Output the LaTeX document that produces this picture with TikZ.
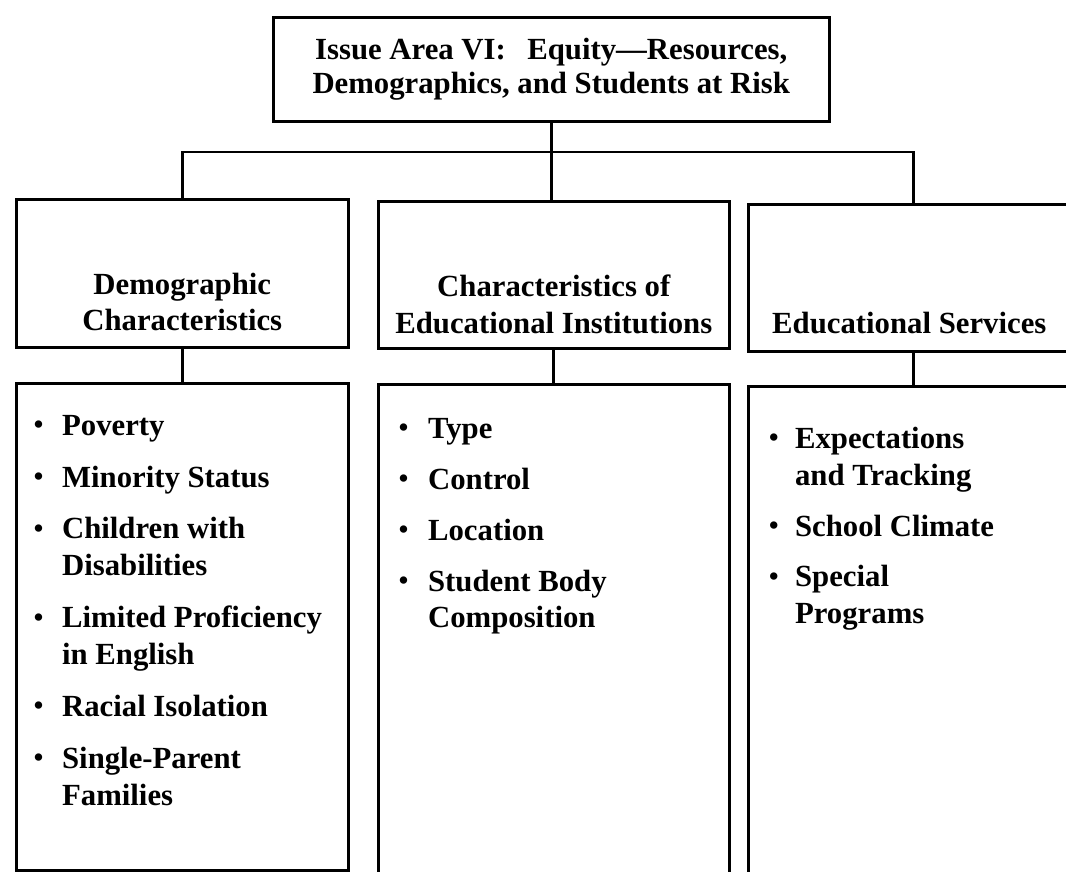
\documentclass[tikz,border=0pt]{standalone}
\usepackage{fontspec}
\usepackage{graphicx}
\setmainfont{Liberation Serif}
\usetikzlibrary{positioning}
\tikzset{
  box/.style={draw,line width=1.5pt,inner sep=0pt,anchor=north west},
  head/.style={font=\bfseries\fontsize{17.5pt}{21pt}\selectfont,align=center,inner sep=0pt},
  items/.style={font=\bfseries\fontsize{17.5pt}{21pt}\selectfont,anchor=north west,inner sep=0pt},
  link/.style={line width=1.5pt}
}
\newcommand{\blt}{\makebox[0.35em]{\raisebox{0.05em}{\scalebox{0.88}{\textbullet}}}}

\begin{document}
\begin{tikzpicture}[x=0.02cm,y=-0.02cm]
                \useasboundingbox (0,0) rectangle (1066,872);
                \clip (0,0) rectangle (1066,872);
                % top box
                \node[box,minimum width=11.12cm,minimum height=2.08cm,
                  font=\bfseries\fontsize{17.5pt}{19pt}\selectfont,align=center]
                  (top) at (272,16) {Issue Area VI:\hspace{0.7em}Equity---Resources,\\
                  Demographics, and Students at Risk};
                % heading boxes
                \node[box,minimum width=6.64cm,minimum height=2.96cm] (demo) at (15,198) {};
                \node[box,minimum width=7.02cm,minimum height=2.94cm] (inst) at (377,200) {};
                \node[box,minimum width=6.6cm,minimum height=2.94cm] (serv) at (747,203) {};
                \node[head,above=0.34cm of demo.south] (demohead) {Demographic\\Characteristics};
                \node[head,above=0.3cm of inst.south] (insthead) {Characteristics of\\Educational Institutions};
                \node[head,above=0.36cm of serv.south,xshift=-0.08cm] (servhead) {Educational Services};
                % list boxes
                \node[box,minimum width=6.64cm,minimum height=9.74cm] (demolist) at (15,382) {};
                \node[box,minimum width=7.02cm,minimum height=10.2cm] (instlist) at (377,383) {};
                \node[box,minimum width=6.6cm,minimum height=10.2cm] (servlist) at (747,385) {};
                \node[items] (demoitems) at (33,409) {\begin{tabular}{@{}l@{\hspace{0.36cm}}l@{}}
                  \blt & Poverty\\[8.5pt]
                  \blt & Minority Status\\[8.5pt]
                  \blt & Children with\\ & Disabilities\\[8.5pt]
                  \blt & Limited Proficiency\\ & in English\\[8.5pt]
                  \blt & Racial Isolation\\[8.5pt]
                  \blt & Single-Parent\\ & Families
                \end{tabular}};
                \node[items] (institems) at (398,412) {\begin{tabular}{@{}l@{\hspace{0.38cm}}l@{}}
                  \blt & Type\\[8pt]
                  \blt & Control\\[8pt]
                  \blt & Location\\[8pt]
                  \blt & Student Body\\ & Composition
                \end{tabular}};
                \node[items] (servitems) at (768,422) {\begin{tabular}{@{}l@{\hspace{0.32cm}}l@{}}
                  \blt & Expectations\\ & and Tracking\\[8pt]
                  \blt & School Climate\\[8pt]
                  \blt & Special\\ & Programs
                \end{tabular}};
                % connectors
                \coordinate (bar) at (550,152);
                \draw[link] (top.south) -- (top.south |- inst.north);
                \draw[link] (demo.north) -- (demo.north |- bar) -- (serv.north |- bar) -- (serv.north);
                \draw[link] (demo.south) -- (demolist.north);
                \draw[link] (inst.south) -- (instlist.north);
                \draw[link] (serv.south) -- (servlist.north);
\end{tikzpicture}
\end{document}
